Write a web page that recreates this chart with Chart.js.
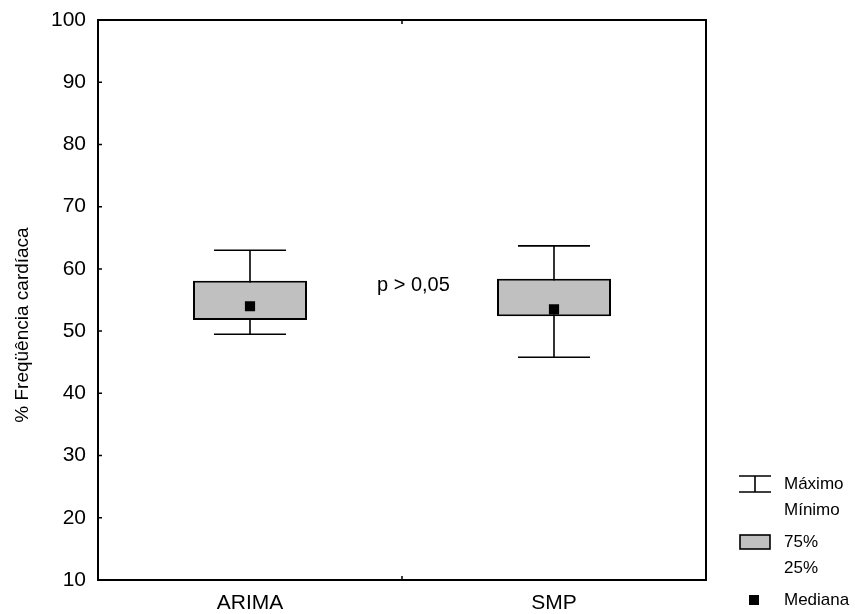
<!DOCTYPE html>
<html>
<head>
<meta charset="utf-8">
<script src="https://cdn.jsdelivr.net/npm/chart.js@4"></script>
<style>
  html, body { margin: 0; padding: 0; background: #fff; }
  #wrap { width: 855px; height: 614px; }
</style>
</head>
<body>
<div id="wrap"><canvas id="box-chart"></canvas></div>
<script>
// Dados por grupo
const groups = ["ARIMA", "SMP"];
const minimos = [49.5, 45.8];
const maximos = [63.0, 63.7];
const q25 = [51.8, 52.4];
const q75 = [58.1, 58.4];
const medianas = [54.0, 53.5];
const yTicks = [10, 20, 30, 40, 50, 60, 70, 80, 90, 100];

const FONT = "'Liberation Sans', Arial, sans-serif";

// =========================================================
// Bigodes, moldura, marcas internas e legenda
// =========================================================
const boxPlotExtras = {
  id: "boxPlotExtras",
  beforeDatasetsDraw(chart) {
    const { ctx, scales } = chart;
    const x = scales.x, y = scales.y;
    ctx.save();
    ctx.strokeStyle = "#000";
    ctx.lineWidth = 1.6;
    groups.forEach((g, i) => {
      const cx = x.getPixelForValue(i);
      const yMin = y.getPixelForValue(minimos[i]);
      const yMax = y.getPixelForValue(maximos[i]);
      const half = 36;
      ctx.beginPath();
      ctx.moveTo(cx, yMin);
      ctx.lineTo(cx, yMax);
      ctx.moveTo(cx - half, yMax);
      ctx.lineTo(cx + half, yMax);
      ctx.moveTo(cx - half, yMin);
      ctx.lineTo(cx + half, yMin);
      ctx.stroke();
    });
    ctx.restore();
  },
  afterDraw(chart) {
    const { ctx, chartArea: a, scales } = chart;
    const y = scales.y;
    ctx.save();
    ctx.strokeStyle = "#000";
    ctx.lineWidth = 2;
    ctx.strokeRect(a.left, a.top, a.right - a.left, a.bottom - a.top);

    // marcas internas
    ctx.lineWidth = 1.5;
    ctx.beginPath();
    yTicks.forEach((v) => {
      const py = y.getPixelForValue(v);
      ctx.moveTo(a.left, py);
      ctx.lineTo(a.left + 4, py);
    });
    const mid = (a.left + a.right) / 2;
    ctx.moveTo(mid, a.top);
    ctx.lineTo(mid, a.top + 4);
    ctx.moveTo(mid, a.bottom);
    ctx.lineTo(mid, a.bottom - 4);
    ctx.stroke();

    ctx.fillStyle = "#000";
    ctx.textBaseline = "middle";

    // título do eixo y
    ctx.save();
    ctx.translate(23, 325);
    ctx.rotate(-Math.PI / 2);
    ctx.textAlign = "center";
    ctx.font = "19px " + FONT;
    ctx.fillText("% Freqüência cardíaca", 0, 0);
    ctx.restore();

    // valor p
    ctx.font = "20px " + FONT;
    ctx.textAlign = "left";
    ctx.fillText("p > 0,05", 377, y.getPixelForValue(57.3));

    // legenda
    ctx.lineWidth = 1.6;
    ctx.beginPath();
    ctx.moveTo(739, 476); ctx.lineTo(771, 476);
    ctx.moveTo(739, 492); ctx.lineTo(771, 492);
    ctx.moveTo(755, 476); ctx.lineTo(755, 492);
    ctx.stroke();
    ctx.fillStyle = "#c0c0c0";
    ctx.fillRect(740, 535, 30, 14);
    ctx.strokeRect(740, 535, 30, 14);
    ctx.fillStyle = "#000";
    ctx.fillRect(749, 595, 10, 10);

    ctx.font = "17px " + FONT;
    ctx.fillText("Máximo", 784, 484);
    ctx.fillText("Mínimo", 784, 510);
    ctx.fillText("75%", 784, 542);
    ctx.fillText("25%", 784, 568);
    ctx.fillText("Mediana", 784, 600);
    ctx.restore();
  },
};

const ctx = document.getElementById("box-chart");

new Chart(ctx, {
  type: "bar",
  plugins: [boxPlotExtras],
  data: {
    labels: groups,
    datasets: [
      {
        label: "25% - 75%",
        data: groups.map((g, i) => [q25[i], q75[i]]),
        backgroundColor: "#c0c0c0",
        borderColor: "#000",
        borderWidth: 2,
        borderSkipped: false,
        categoryPercentage: 1,
        barPercentage: 0.375,
        order: 2,
      },
      {
        type: "line",
        label: "Mediana",
        data: medianas,
        showLine: false,
        pointStyle: "rect",
        pointRadius: 7.2,
        pointBackgroundColor: "#000",
        pointBorderWidth: 0,
        order: 1,
      },
    ],
  },
  options: {
    responsive: true,
    maintainAspectRatio: false,
    animation: false,
    events: [],
    layout: { padding: { top: 20, right: 149, left: 0, bottom: 0 } },
    plugins: { legend: { display: false }, tooltip: { enabled: false } },
    scales: {
      x: {
        offset: true,
        afterFit: (s) => { s.height = 34; s.paddingLeft = 0; s.paddingRight = 0; },
        grid: { display: false, drawTicks: false },
        border: { display: false },
        ticks: { color: "#000", font: { family: FONT, size: 21 }, padding: 11 },
      },
      y: {
        min: 10,
        max: 100,
        afterFit: (s) => { s.width = 98; s.paddingTop = 0; s.paddingBottom = 0; },
        afterBuildTicks: (s) => { s.ticks = yTicks.map((v) => ({ value: v })); },
        grid: { display: false, drawTicks: false },
        border: { display: false },
        ticks: { color: "#000", font: { family: FONT, size: 21 }, padding: 12 },
      },
    },
  },
});
</script>
</body>
</html>
